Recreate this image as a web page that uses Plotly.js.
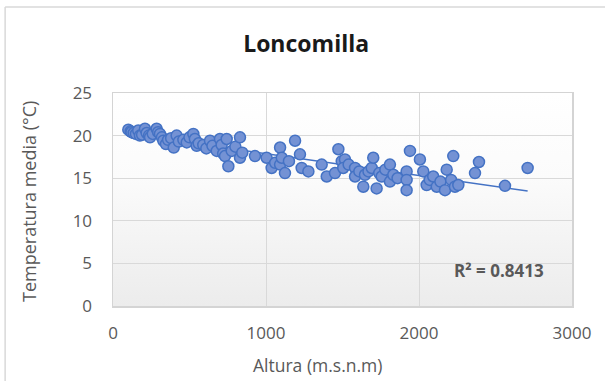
<!DOCTYPE html>
<html>
<head>
<meta charset="utf-8">
<script src="https://cdn.plot.ly/plotly-3.0.1.min.js"></script>
<style>
  html, body { margin: 0; padding: 0; background: #ffffff; }
  #wrap { position: relative; width: 605px; height: 381px; overflow: hidden; }
  #bg { position: absolute; left: 113px; top: 93px; width: 459px; height: 213px;
        background: linear-gradient(to bottom, #ffffff 0%, #fbfbfb 40%, #ececec 100%); }
  #chart { position: absolute; left: 0; top: 0; width: 605px; height: 381px; }
</style>
</head>
<body>
<div id="wrap">
  <div id="bg"></div>
  <div id="chart"></div>
</div>
<script>
// Altitude (m.s.n.m) of each station
const altura = [
  100, 115, 121, 135, 150, 165, 176, 190, 209, 220, 235, 242, 260, 285, 295, 307, 320, 329, 346, 360,
  380, 397, 416, 430, 460, 482, 500, 525, 535, 547, 560, 590, 610, 634, 650, 678, 699, 710, 720, 732,
  743, 754, 776, 800, 830, 830, 845, 928, 1004, 1037, 1060, 1092, 1092, 1103, 1124, 1150, 1190, 1222, 1233, 1277,
  1364, 1397, 1451, 1473, 1495, 1516, 1505, 1540, 1582, 1582, 1610, 1636, 1647, 1670, 1691, 1701, 1723, 1740, 1756, 1780,
  1810, 1810, 1832, 1860, 1919, 1919, 1919, 1941, 2006, 2028, 2050, 2070, 2093, 2116, 2140, 2170, 2181, 2210, 2224, 2235,
  2257, 2366, 2392, 2562, 2710
];
// Mean temperature (°C) of each station
const temperatura = [
  20.7, 20.5, 20.4, 20.3, 20.2, 20.6, 20.0, 20.1, 20.8, 20.3, 20.0, 19.8, 20.2, 20.8, 20.4, 20.2, 19.8, 19.4, 19.0, 19.5,
  19.7, 18.6, 20.0, 19.3, 19.5, 19.2, 19.8, 20.2, 19.6, 18.8, 19.1, 18.9, 18.5, 19.4, 18.8, 18.2, 19.6, 18.9, 17.9, 17.6,
  19.6, 16.4, 18.2, 18.7, 19.8, 17.4, 18.0, 17.6, 17.4, 16.2, 16.8, 18.6, 16.6, 17.4, 15.6, 17.0, 19.4, 17.8, 16.2, 15.8,
  16.6, 15.2, 15.6, 18.4, 17.0, 17.2, 16.2, 16.6, 16.2, 15.2, 15.8, 14.0, 15.4, 15.8, 16.2, 17.4, 13.8, 15.6, 15.2, 16.0,
  16.6, 14.6, 15.4, 15.0, 15.8, 14.8, 13.6, 18.2, 17.2, 15.8, 14.2, 14.8, 15.2, 14.0, 14.6, 13.6, 16.0, 14.8, 17.6, 14.0,
  14.2, 15.6, 16.9, 14.1, 16.2
];
const xTicks = [0, 1000, 2000, 3000];
const yTicks = [0, 5, 10, 15, 20, 25];
const chartTitle = 'Loncomilla';
const xTitle = 'Altura (m.s.n.m)';
const yTitle = 'Temperatura media (°C)';
const r2Label = 'R² = 0.8413';

// Linear trend line (least squares) computed from the data
const n = altura.length;
const mx = altura.reduce((a, b) => a + b, 0) / n;
const my = temperatura.reduce((a, b) => a + b, 0) / n;
let sxy = 0, sxx = 0;
for (let i = 0; i < n; i++) { sxy += (altura[i] - mx) * (temperatura[i] - my); sxx += (altura[i] - mx) ** 2; }
const slope = sxy / sxx;
const intercept = my - slope * mx;
const xMin = Math.min(...altura), xMax = Math.max(...altura);
const trendX = [xMin, xMax];
const trendY = trendX.map(v => intercept + slope * v);

const font = 'Open Sans, Liberation Sans, sans-serif';
const gray = '#595959';

const traces = [
  {
    x: trendX, y: trendY, type: 'scatter', mode: 'lines',
    line: { color: '#4472C4', width: 1.5 }, hoverinfo: 'skip', showlegend: false
  },
  {
    x: altura, y: temperatura, type: 'scatter', mode: 'markers',
    marker: { size: 11, color: '#7492D4', line: { color: '#4472C4', width: 1.5 } },
    showlegend: false
  }
];

const layout = {
  width: 605, height: 381,
  margin: { l: 113, r: 33, t: 93, b: 75 },
  paper_bgcolor: 'rgba(0,0,0,0)',
  plot_bgcolor: 'rgba(0,0,0,0)',
  font: { family: font, color: gray, size: 17 },
  title: {
    text: chartTitle,
    font: { family: font, size: 23, color: '#1a1a1a', weight: 'bold' },
    x: 0.506, xref: 'container', xanchor: 'center',
    y: 0.885, yref: 'container', yanchor: 'middle'
  },
  xaxis: {
    range: [0, 3000], tickvals: xTicks, ticktext: xTicks.map(String),
    showgrid: true, gridcolor: '#d9d9d9', gridwidth: 1,
    showline: true, linecolor: '#d4d4d4', linewidth: 1.5, mirror: true,
    zeroline: false, ticks: '', ticklabelstandoff: 11,
    tickfont: { family: font, size: 17, color: gray },
    fixedrange: true
  },
  yaxis: {
    range: [0, 25], tickvals: yTicks, ticktext: yTicks.map(String),
    showgrid: true, gridcolor: '#d9d9d9', gridwidth: 1,
    showline: true, linecolor: '#d4d4d4', linewidth: 1.5, mirror: true,
    zeroline: false, ticks: '', ticklabelstandoff: 16,
    tickfont: { family: font, size: 17, color: gray },
    fixedrange: true
  },
  annotations: [
    {
      text: '<b>' + r2Label + '</b>', xref: 'paper', yref: 'paper',
      x: 0.841, y: 0.169, xanchor: 'center', yanchor: 'middle',
      showarrow: false, font: { family: font, size: 17, color: gray }
    },
    {
      text: xTitle, xref: 'paper', yref: 'paper',
      x: (317 - 113) / 459, y: -(365 - 306) / 213, xanchor: 'center', yanchor: 'middle',
      showarrow: false, font: { family: font, size: 17.5, color: gray }
    },
    {
      text: yTitle, xref: 'paper', yref: 'paper', textangle: -90,
      x: -(113 - 29) / 459, y: (306 - 202) / 213, xanchor: 'center', yanchor: 'middle',
      showarrow: false, font: { family: font, size: 18, color: gray }
    }
  ],
  shapes: [
    { type: 'line', xref: 'paper', yref: 'paper', x0: -0.235, x1: 1.2, y0: 1.404, y1: 1.404,
      line: { color: '#d9d9d9', width: 1.5 } },
    { type: 'line', xref: 'paper', yref: 'paper', x0: -0.235, x1: -0.235, y0: 1.404, y1: -0.4,
      line: { color: '#d9d9d9', width: 1.5 } }
  ]
};

Plotly.newPlot('chart', traces, layout, { displayModeBar: false, staticPlot: true });
</script>
</body>
</html>
